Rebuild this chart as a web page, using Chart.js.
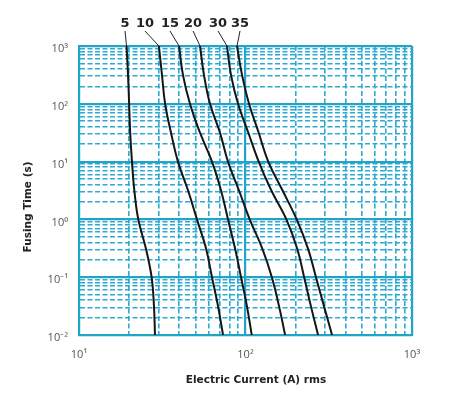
<!DOCTYPE html>
<html>
<head>
<meta charset="utf-8">
<script src="https://cdn.jsdelivr.net/npm/chart.js@4.4.1/dist/chart.umd.min.js"></script>
<style>
  html, body { margin: 0; padding: 0; background: #fff; }
  #wrap { width: 449px; height: 408px; }
</style>
</head>
<body>
<div id="wrap"><canvas id="grafico"></canvas></div>
<script>
/* Curvas de fusão tempo x corrente (log-log). */
const TEMPOS = [1000, 316, 100, 31.6, 10, 3.16, 1, 0.316, 0.1, 0.0316, 0.01];

const ROTULOS = ["5", "10", "15", "20", "30", "35"];
const CORRENTE_5  = [19.3, 19.7, 20.0, 20.3, 20.8, 21.5, 22.7, 25.2, 27.3, 28.2, 28.6];
const CORRENTE_10 = [30.2, 31.5, 32.9, 35.7, 39.3, 45.2, 51.1, 57.9, 62.9, 68.4, 73.3];
const CORRENTE_15 = [39.9, 42.1, 46.4, 53.3, 62.9, 71.3, 78.5, 86.5, 94.0, 102, 109];
const CORRENTE_20 = [53.3, 56.3, 61.2, 70.3, 78.5, 91.4, 106, 126, 144, 159, 173];
const CORRENTE_30 = [77.4, 81.8, 90.2, 104, 120, 143, 176, 204, 225, 247, 273];
const CORRENTE_35 = [88.9, 95.3, 105, 120, 137, 167, 203, 237, 265, 296, 331];
const CORRENTES = [CORRENTE_5, CORRENTE_10, CORRENTE_15, CORRENTE_20, CORRENTE_30, CORRENTE_35];

// corrente onde fica o número de cada curva, acima do gráfico
const ROTULO_X = [18.9, 24.9, 35.2, 48.4, 68.4, 92.7];

const DECADAS_X = [10, 100, 1000];
const DECADAS_Y = [0.01, 0.1, 1, 10, 100, 1000];
const TICKS_X_LABEL = ["10¹", "10²", "10³"];
const TICKS_Y_LABEL = ["10⁻²", "10⁻¹", "10⁰", "10¹", "10²", "10³"];
const MULTIPLOS = [1, 2, 3, 4, 5, 6, 7, 8, 9];

const AZUL = "#22a3c8";
const AZUL_CLARO = "#2eaad0";

function valoresGrade(decadas) {
  const out = [];
  decadas.forEach((d, i) => {
    if (i === decadas.length - 1) { out.push(d); return; }
    MULTIPLOS.forEach(m => out.push(+(d * m).toPrecision(6)));
  });
  return out;
}
function ehDecada(v) {
  if (v == null) return false;
  const l = Math.log10(v);
  return Math.abs(l - Math.round(l)) < 1e-6;
}
function rotuloDecada(v, decadas, labels) {
  if (!ehDecada(v)) return "";
  const i = decadas.findIndex(d => Math.abs(Math.log10(d) - Math.log10(v)) < 1e-6);
  return i >= 0 ? labels[i] : "";
}

const datasets = ROTULOS.map((r, i) => ({
  label: r,
  data: TEMPOS.map((t, k) => ({ x: CORRENTES[i][k], y: t })),
  borderColor: "#151515",
  borderWidth: 2,
  pointRadius: 0,
  fill: false,
  tension: 0.4,
}));

const gradeComum = {
  color: ctx => ehDecada(ctx.tick && ctx.tick.value) ? AZUL : AZUL_CLARO,
  lineWidth: ctx => ehDecada(ctx.tick && ctx.tick.value) ? 2.2 : 1.6,
  drawTicks: false,
};
const bordaComum = {
  display: true,
  color: AZUL,
  width: 2,
  dash: ctx => (ctx.tick && !ehDecada(ctx.tick.value)) ? [5, 2.5] : [],
};

const rotulosCurvas = {
  id: "rotulosCurvas",
  afterDatasetsDraw(chart) {
    const { ctx, chartArea, scales } = chart;
    ctx.save();
    ctx.strokeStyle = "#222";
    ctx.lineWidth = 1;
    ctx.fillStyle = "#222";
    ctx.font = "bold 13px 'DejaVu Sans', Verdana, sans-serif";
    ctx.textAlign = "center";
    ctx.textBaseline = "middle";
    chart.data.datasets.forEach((ds, i) => {
      const p0 = chart.getDatasetMeta(i).data[0];
      const lx = scales.x.getPixelForValue(ROTULO_X[i]);
      ctx.beginPath();
      ctx.moveTo(lx, chartArea.top - 15);
      ctx.lineTo(p0.x, p0.y);
      ctx.stroke();
      ctx.fillText(ds.label, lx, chartArea.top - 22);
    });
    ctx.restore();
  },
};

const titulosEixos = {
  id: "titulosEixos",
  afterDraw(chart) {
    const { ctx, chartArea } = chart;
    ctx.save();
    ctx.fillStyle = "#222";
    ctx.font = "bold 10.5px 'DejaVu Sans', Verdana, sans-serif";
    ctx.textAlign = "center";
    ctx.textBaseline = "middle";
    ctx.fillText("Electric Current (A) rms", chartArea.left + 177, chartArea.bottom + 45);
    ctx.translate(28, chartArea.top + 161);
    ctx.rotate(-Math.PI / 2);
    ctx.fillText("Fusing Time (s)", 0, 0);
    ctx.restore();
  },
};

new Chart(document.getElementById("grafico"), {
  type: "line",
  data: { datasets },
  options: {
    responsive: true,
    maintainAspectRatio: false,
    animation: false,
    layout: { padding: { top: 46, right: 37, left: 0, bottom: 0 } },
    plugins: { legend: { display: false }, tooltip: { enabled: false } },
    scales: {
      x: {
        type: "logarithmic",
        min: 10,
        max: 1000,
        afterBuildTicks: s => { s.ticks = valoresGrade(DECADAS_X).map(v => ({ value: v, major: ehDecada(v) })); },
        afterFit: s => { s.height = 73; },
        grid: gradeComum,
        border: bordaComum,
        ticks: {
          autoSkip: false,
          maxRotation: 0,
          padding: 13,
          color: "#555",
          font: { family: "'Open Sans', sans-serif", size: 11 },
          callback: v => rotuloDecada(v, DECADAS_X, TICKS_X_LABEL),
        },
      },
      y: {
        type: "logarithmic",
        min: 0.01,
        max: 1000,
        afterBuildTicks: s => { s.ticks = valoresGrade(DECADAS_Y).map(v => ({ value: v, major: ehDecada(v) })); },
        afterFit: s => { s.width = 79; },
        grid: gradeComum,
        border: bordaComum,
        ticks: {
          autoSkip: false,
          padding: 11,
          labelOffset: 3,
          color: "#555",
          font: { family: "'Open Sans', sans-serif", size: 11 },
          callback: v => rotuloDecada(v, DECADAS_Y, TICKS_Y_LABEL),
        },
      },
    },
  },
  plugins: [rotulosCurvas, titulosEixos],
});
</script>
</body>
</html>
